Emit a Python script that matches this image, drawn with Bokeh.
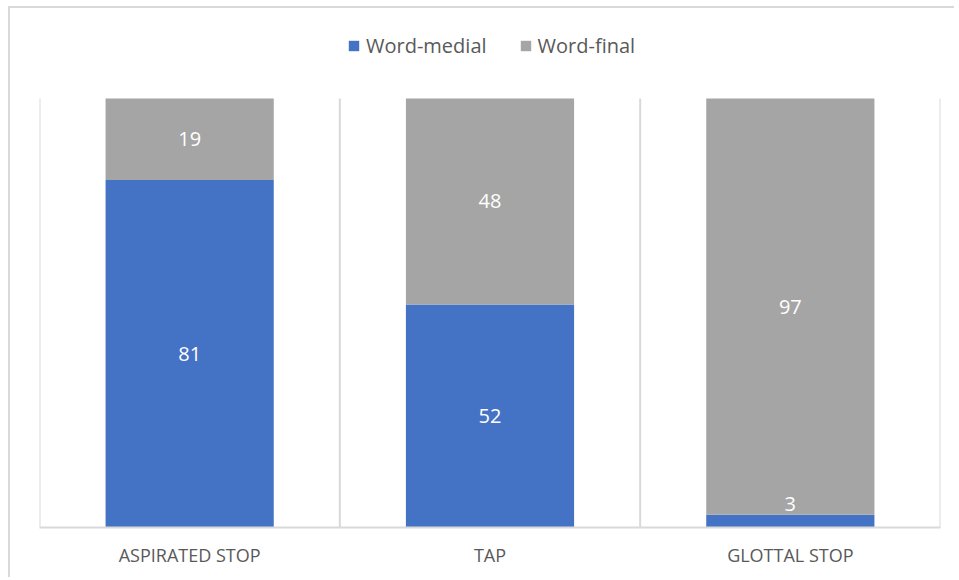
from bokeh.plotting import figure
from bokeh.models import ColumnDataSource, FixedTicker, Legend, LegendItem, Range1d
from bokeh.core.properties import value
from bokeh.embed import file_html
from bokeh.resources import INLINE

categories = ["ASPIRATED STOP", "TAP", "GLOTTAL STOP"]
word_medial = [81, 52, 3]
word_final = [19, 48, 97]
series_names = ["Word-medial", "Word-final"]
colors = ["#4472C4", "#A5A5A5"]

FONT = "Open Sans"
TOTAL = 100
Y_TOP = TOTAL * 509 / 429  # headroom inside the frame for the legend

xs = [i + 0.5 for i in range(len(categories))]
bounds = list(range(len(categories) + 1))

p = figure(width=946, height=571, output_backend="svg", toolbar_location=None,
           x_range=Range1d(0, len(categories)), y_range=Range1d(0, Y_TOP),
           min_border_left=29, min_border_right=16, min_border_top=10, min_border_bottom=52,
           styles={"border-top": "2px solid #D9D9D9", "border-left": "2px solid #D9D9D9",
                   "margin-left": "8px", "margin-top": "6px"})
p.outline_line_color = None
p.background_fill_color = "white"
p.border_fill_color = "white"

# category separators (from 0 to the 100% level)
p.segment(x0=bounds, y0=[0] * len(bounds), x1=bounds, y1=[TOTAL] * len(bounds),
          line_color="#D9D9D9", line_width=2)

src = ColumnDataSource(dict(x=xs, med_top=word_medial,
                            fin_top=[m + f for m, f in zip(word_medial, word_final)]))
r1 = p.vbar(x="x", bottom=0, top="med_top", width=0.56, source=src,
            fill_color=colors[0], line_color=None)
r2 = p.vbar(x="x", bottom="med_top", top="fin_top", width=0.56, source=src,
            fill_color=colors[1], line_color=None)

# data labels
mx, my, mt = [], [], []
sx, sy, st = [], [], []
for i, x in enumerate(xs):
    bottom = 0
    for vals in (word_medial, word_final):
        v = vals[i]
        if v < 6:
            sx.append(x); sy.append(bottom + v); st.append(str(v))
        else:
            mx.append(x); my.append(bottom + v / 2); mt.append(str(v))
        bottom += v
p.text(x=mx, y=my, text=mt, text_baseline="middle", text_align="center",
       text_color="#FFFFFF", text_font=value(FONT), text_font_size="20px")
p.text(x=sx, y=sy, text=st, text_baseline="middle", text_align="center",
       text_color="#FFFFFF", text_font=value(FONT), text_font_size="20px", y_offset=-11)

# axes
p.yaxis.visible = False
p.ygrid.visible = False
p.xgrid.visible = False
p.xaxis.ticker = FixedTicker(ticks=xs)
p.xaxis.major_label_overrides = {x: c for x, c in zip(xs, categories)}
p.xaxis.major_tick_line_color = None
p.xaxis.minor_tick_line_color = None
p.xaxis.axis_line_color = "#D9D9D9"
p.xaxis.axis_line_width = 2
p.xaxis.major_label_text_font = FONT
p.xaxis.major_label_text_font_size = "18px"
p.xaxis.major_label_text_color = "#595959"
p.xaxis.major_label_standoff = 9

legend = Legend(items=[LegendItem(label=series_names[0], renderers=[r1]),
                       LegendItem(label=series_names[1], renderers=[r2])],
                orientation="horizontal", location=(308, 468),
                glyph_width=13, glyph_height=13, label_standoff=6, spacing=32,
                padding=0, margin=0, border_line_color=None, background_fill_alpha=0,
                label_text_font=FONT, label_text_font_size="20px", label_text_color="#595959")
p.add_layout(legend, "center")

open("out.html", "w").write(file_html(p, INLINE))
